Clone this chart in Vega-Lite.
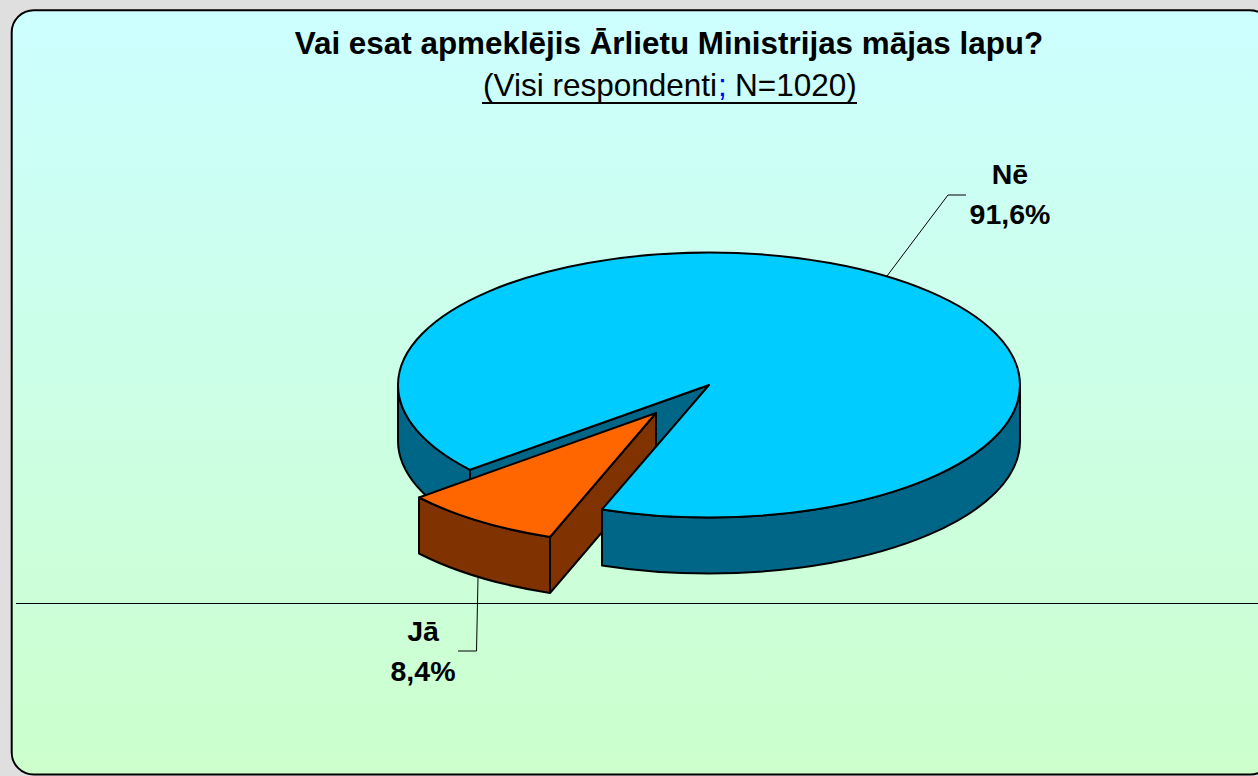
{
"$schema":"https://vega.github.io/schema/vega-lite/v6.json",
"width":1258,"height":776,"padding":0,"autosize":"none","background":"#dfdfdf",
"view":{"stroke":null,"fill":null},
"datasets":{
"slices":[{"slice":"Nē","share":91.6,"label":"Nē\n91,6%"},{"slice":"Jā","share":8.4,"label":"Jā\n8,4%"}],
"frame":[{"part":"frame"}],
"sub":[{"part":"(Visi respondenti"}]
},
"title":{"text":"Vai esat apmeklējis Ārlietu Ministrijas mājas lapu?","font":"Liberation Sans","fontSize":31.4,"fontWeight":"bold","color":"#000000","anchor":"middle","dx":40,"baseline":"alphabetic","offset":-85},
"layer":[
{"data":{"name":"frame"},"mark":{"type":"point","filled":true,"opacity":1,"size":4,"strokeWidth":2,"stroke":"#000000",
"fill":{"gradient":"linear","x1":0,"y1":0,"x2":0,"y2":1,"stops":[{"offset":0,"color":"#ccffff"},{"offset":1,"color":"#ccffcc"}]},
"shape":"M -595 -377.7 H 621 A 22 22 0 0 1 643 -355.7 V 364.5 A 22 22 0 0 1 621 386.5 H -595 A 22 22 0 0 1 -617.3 364.5 V -355.7 A 22 22 0 0 1 -595 -377.7 Z"}},
{"data":{"name":"frame"},"mark":{"type":"point","filled":false,"opacity":1,"size":4,"strokeWidth":1,"stroke":"#000000","shape":"M -613 215.5 H 629"}},
{"data":{"name":"slices"},"transform":[{"filter":"datum.slice==='Nē'"}],"mark":{"type":"point","filled":false,"opacity":1,"size":4,"strokeWidth":1,"stroke":"#000000","shape":"M 258 -112 L 319 -193 H 337"}},
{"data":{"name":"slices"},"transform":[{"filter":"datum.slice==='Jā'"}],"mark":{"type":"point","filled":false,"opacity":1,"size":4,"strokeWidth":1,"stroke":"#000000","shape":"M -151 190 L -152.5 263 H -171"}},
{"data":{"name":"slices"},"transform":[{"filter":"datum.slice==='Nē'"}],
"mark":{"type":"point","filled":true,"opacity":1,"size":4,"strokeWidth":2,"stroke":"#000000","strokeJoin":"round",
"shape":"M -231 -3 L -231 53 A 311 132.5 0 0 0 -159 137.5 L -159 81.5 A 311 132.5 0 0 1 -231 -3 Z M 80 -3 L -159 81.5 L -159 137.5 L 80 53 Z"},
"encoding":{"fill":{"field":"slice","legend":null,"scale":{"domain":["Nē","Jā"],"range":["#006688","#803300"]}}}},
{"data":{"name":"slices"},"transform":[{"filter":"datum.slice==='Jā'"}],
"mark":{"type":"point","filled":true,"opacity":1,"size":4,"strokeWidth":2,"stroke":"#000000","strokeJoin":"round",
"shape":"M -210 109.5 L -210 165.5 A 311 132.5 0 0 0 -79 205 L -79 149 A 311 132.5 0 0 1 -210 109.5 Z M -79 149 L -79 205 L 27 81 L 27 25 Z"},
"encoding":{"fill":{"field":"slice","legend":null,"scale":{"domain":["Nē","Jā"],"range":["#006688","#803300"]}}}},
{"data":{"name":"slices"},"transform":[{"filter":"datum.slice==='Jā'"}],
"mark":{"type":"point","filled":true,"opacity":1,"size":4,"strokeWidth":2,"stroke":"#000000","strokeJoin":"round",
"shape":"M 27 25 L -210 109.5 A 311 132.5 0 0 0 -79 149 Z"},
"encoding":{"fill":{"field":"slice","legend":null,"scale":{"domain":["Nē","Jā"],"range":["#00ccff","#ff6600"]}}}},
{"data":{"name":"slices"},"transform":[{"filter":"datum.slice==='Nē'"}],
"mark":{"type":"point","filled":true,"opacity":1,"size":4,"strokeWidth":2,"stroke":"#000000","strokeJoin":"round",
"shape":"M -27 121.4 L -27 177.4 A 311 132.5 0 0 0 80 185.5 A 311 132.5 0 0 0 391 53 L 391 -3 A 311 132.5 0 0 1 80 129.5 A 311 132.5 0 0 1 -27 121.4 Z"},
"encoding":{"fill":{"field":"slice","legend":null,"scale":{"domain":["Nē","Jā"],"range":["#006688","#803300"]}}}},
{"data":{"name":"slices"},"transform":[{"filter":"datum.slice==='Nē'"}],
"mark":{"type":"point","filled":true,"opacity":1,"size":4,"strokeWidth":2,"stroke":"#000000","strokeJoin":"round",
"shape":"M 80 -3 L -159 81.8 A 311 132.5 0 0 1 -231 -3 A 311 132.5 0 0 1 80 -135.5 A 311 132.5 0 0 1 391 -3 A 311 132.5 0 0 1 80 129.5 A 311 132.5 0 0 1 -27 121.4 Z"},
"encoding":{"fill":{"field":"slice","legend":null,"scale":{"domain":["Nē","Jā"],"range":["#00ccff","#ff6600"]}}}},
{"data":{"name":"slices"},
"mark":{"type":"text","font":"Liberation Sans","fontSize":28.5,"fontWeight":"bold","color":"#000000","lineBreak":"\n","lineHeight":40,"align":"center","baseline":"middle"},
"encoding":{"text":{"field":"label"},
"x":{"field":"slice","type":"nominal","axis":null,"scale":{"type":"point","padding":0,"domain":["Nē","Jā"],"range":[1010,423]}},
"y":{"field":"slice","type":"nominal","axis":null,"scale":{"type":"point","padding":0,"domain":["Nē","Jā"],"range":[175,632]}}}},
{"data":{"name":"sub"},"mark":{"type":"text","font":"Liberation Sans","fontSize":31.5,"color":"#000000","align":"left","baseline":"alphabetic","dx":-146,"dy":-292,"text":"(Visi respondenti"}},
{"data":{"name":"sub"},"mark":{"type":"text","font":"Liberation Sans","fontSize":31.5,"color":"#0000ff","align":"left","baseline":"alphabetic","dx":89,"dy":-292,"text":";"}},
{"data":{"name":"sub"},"mark":{"type":"text","font":"Liberation Sans","fontSize":31.5,"color":"#000000","align":"left","baseline":"alphabetic","dx":106,"dy":-292,"text":"N=1020)"}},
{"data":{"name":"frame"},"mark":{"type":"point","filled":false,"opacity":1,"size":4,"strokeWidth":2,"stroke":"#000000","shape":"M -147 -285 H 228"}}
],
"resolve":{"scale":{"fill":"independent","x":"independent","y":"independent"}}
}
